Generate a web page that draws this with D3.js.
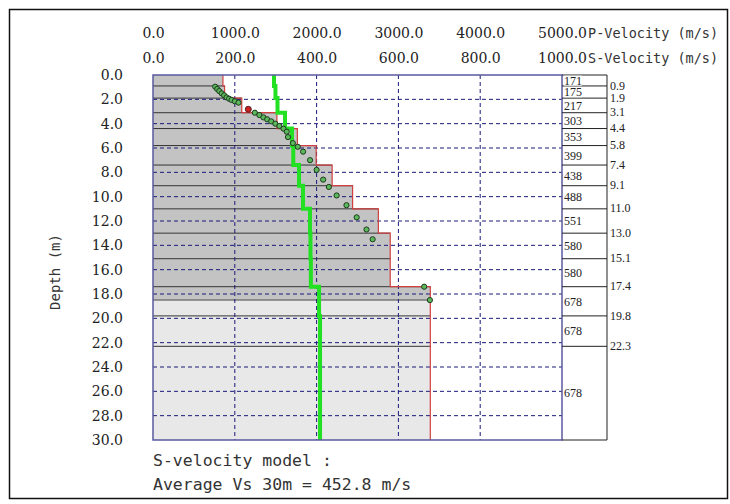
<!DOCTYPE html>
<html>
<head>
<meta charset="utf-8">
<script src="https://cdn.jsdelivr.net/npm/d3@7"></script>
<style>
  body { margin: 0; background: #fff; }
  .num { font-family: "DejaVu Serif", serif; font-size: 14px; fill: #222; }
  .mono { font-family: "DejaVu Sans Mono", monospace; fill: #333; }
  .box { font-family: "Liberation Serif", serif; font-size: 12px; fill: #222; }
</style>
</head>
<body>
<script>
// layer model
var layerBottom = [0.9, 1.9, 3.1, 4.4, 5.8, 7.4, 9.1, 11.0, 13.0, 15.1, 17.4, 19.8, 22.3, 30.0];
var vsLayer = [171, 175, 217, 303, 353, 399, 438, 488, 551, 580, 580, 678, 678, 678];
var vpLayer = [1479, 1497, 1522, 1614, 1699, 1715, 1785, 1834, 1919, 1925, 1930, 2030, 2042, 2042];
var shadeDepth = 18.5;

// picked dispersion points (velocity m/s, depth m)
var dispVel = [152, 157, 162, 168, 174, 180, 186, 192, 200, 209, 249, 260, 270, 279, 289, 299, 309, 319, 327, 330, 342, 354, 367, 384, 400, 416, 430, 449, 473, 498, 522, 537, 663, 677];
var dispDepth = [0.96, 1.15, 1.32, 1.51, 1.67, 1.84, 1.95, 2.05, 2.16, 2.27, 3.1, 3.29, 3.48, 3.64, 3.81, 4.0, 4.19, 4.41, 4.66, 5.1, 5.6, 5.9, 6.3, 7.0, 7.8, 8.6, 9.2, 9.9, 10.7, 11.7, 12.7, 13.5, 17.4, 18.5];
var redVel = [233];
var redDepth = [2.82];

var pTicks = [0, 1000, 2000, 3000, 4000, 5000];
var sTicks = [0, 200, 400, 600, 800, 1000];
var depthTicks = d3.range(0, 31, 2);

var W = 730, H = 504;
var svg = d3.select("body").append("svg")
    .attr("width", W)
    .attr("height", H);

svg.append("rect")
    .attr("x", 9.5).attr("y", 9.5)
    .attr("width", 718).attr("height", 489)
    .attr("fill", "none").attr("stroke", "#111").attr("stroke-width", 1.5);

var x0 = 153, x1 = 562, y0 = 75, y1 = 440;
var xs = d3.scaleLinear().domain([0, 1000]).range([x0, x1]);
var xp = d3.scaleLinear().domain([0, 5000]).range([x0, x1]);
var y = d3.scaleLinear().domain([0, 30]).range([y0, y1]);

var layers = layerBottom.map(function(b, i){
    return { top: i == 0 ? 0 : layerBottom[i-1], bottom: b, vs: vsLayer[i], vp: vpLayer[i] };
});

// gray fill, split at shading depth
var g = svg.append("g");
layers.forEach(function(l){
    var parts = [];
    if (l.bottom <= shadeDepth) parts.push([l.top, l.bottom, "#c3c3c3"]);
    else if (l.top >= shadeDepth) parts.push([l.top, l.bottom, "#e8e8e8"]);
    else { parts.push([l.top, shadeDepth, "#c3c3c3"]); parts.push([shadeDepth, l.bottom, "#e8e8e8"]); }
    parts.forEach(function(p){
        g.append("rect")
            .attr("x", x0).attr("y", y(p[0]))
            .attr("width", xs(l.vs) - x0).attr("height", y(p[1]) - y(p[0]))
            .attr("fill", p[2]);
    });
});

// layer boundary lines
layers.slice(0, -1).forEach(function(l, i){
    g.append("line")
        .attr("x1", x0).attr("x2", xs(Math.max(l.vs, layers[i+1].vs)))
        .attr("y1", y(l.bottom)).attr("y2", y(l.bottom))
        .attr("stroke", "#333").attr("stroke-width", 1);
});
g.append("line")
    .attr("x1", x0).attr("x2", xs(vsLayer[layerBottom.findIndex(function(b){ return b > shadeDepth; })]))
    .attr("y1", y(shadeDepth)).attr("y2", y(shadeDepth))
    .attr("stroke", "#777").attr("stroke-width", 1.5);

// grid
var grid = svg.append("g").attr("stroke", "#1a1a7a").attr("stroke-width", 1).attr("stroke-dasharray", "4,3");
depthTicks.slice(1, -1).forEach(function(d){
    grid.append("line").attr("x1", x0).attr("x2", x1).attr("y1", y(d)).attr("y2", y(d));
});
sTicks.slice(1, -1).forEach(function(v){
    grid.append("line").attr("x1", xs(v)).attr("x2", xs(v)).attr("y1", y0).attr("y2", y1);
});

// Vs step line (red)
var stepPts = [];
layers.forEach(function(l){ stepPts.push([l.vs, l.top]); stepPts.push([l.vs, l.bottom]); });
var line = d3.line().x(function(d){ return xs(d[0]); }).y(function(d){ return y(d[1]); });
svg.append("path").attr("d", line(stepPts))
    .attr("fill", "none").attr("stroke", "#d04040").attr("stroke-width", 1.2);

// Vp step line (green)
var vpPts = [];
layers.forEach(function(l){ vpPts.push([l.vp, l.top]); vpPts.push([l.vp, l.bottom]); });
var lineP = d3.line().x(function(d){ return xp(d[0]); }).y(function(d){ return y(d[1]); });
svg.append("path").attr("d", lineP(vpPts))
    .attr("fill", "none").attr("stroke", "#22e022").attr("stroke-width", 4);

// dispersion points
svg.append("g").selectAll("circle")
    .data(dispVel.map(function(v, i){ return [v, dispDepth[i]]; }))
    .enter().append("circle")
    .attr("cx", function(d){ return xs(d[0]); })
    .attr("cy", function(d){ return y(d[1]); })
    .attr("r", 2.6)
    .attr("fill", "#5cb85c").attr("stroke", "#1e3a1e").attr("stroke-width", 1);
svg.append("g").selectAll("circle")
    .data(redVel.map(function(v, i){ return [v, redDepth[i]]; }))
    .enter().append("circle")
    .attr("cx", function(d){ return xs(d[0]); })
    .attr("cy", function(d){ return y(d[1]); })
    .attr("r", 3)
    .attr("fill", "#d02020").attr("stroke", "#502020").attr("stroke-width", 1);

// plot border
svg.append("rect")
    .attr("x", x0).attr("y", y0).attr("width", x1 - x0).attr("height", y1 - y0)
    .attr("fill", "none").attr("stroke", "#5a5aa0").attr("stroke-width", 1.5);

// right label box
var bx1 = 607;
var box = svg.append("g");
box.append("path")
    .attr("d", "M" + x1 + "," + y0 + "H" + bx1 + "V" + y1 + "H" + x1)
    .attr("fill", "none").attr("stroke", "#222").attr("stroke-width", 1);
layers.slice(0, -1).forEach(function(l){
    box.append("line").attr("x1", x1).attr("x2", bx1)
        .attr("y1", y(l.bottom)).attr("y2", y(l.bottom))
        .attr("stroke", "#222").attr("stroke-width", 1);
});
layers.forEach(function(l){
    var t = box.append("text").attr("class", "box")
        .attr("x", x1 + 2).attr("y", (y(l.top) + y(l.bottom)) / 2)
        .attr("dy", "0.35em").text(l.vs);
    var bb = t.node().getBBox();
    box.insert("rect", function(){ return t.node(); })
        .attr("x", bb.x).attr("y", bb.y + 2).attr("width", bb.width).attr("height", bb.height - 4)
        .attr("fill", "#fff");
});
layers.slice(0, -1).forEach(function(l){
    svg.append("text").attr("class", "box")
        .attr("x", bx1 + 3).attr("y", y(l.bottom))
        .attr("dy", "0.3em").text(l.bottom.toFixed(1));
});

// axes
var fmt = d3.format(".1f");
var axP = svg.append("g").attr("transform", "translate(0,38)")
    .call(d3.axisTop(xp).tickValues(pTicks).tickFormat(fmt).tickSize(0).tickPadding(0));
var axS = svg.append("g").attr("transform", "translate(0,63)")
    .call(d3.axisTop(xs).tickValues(sTicks).tickFormat(fmt).tickSize(0).tickPadding(0));
var axY = svg.append("g").attr("transform", "translate(" + x0 + ",0)")
    .call(d3.axisLeft(y).tickValues(depthTicks).tickFormat(fmt).tickSize(0).tickPadding(30));
[axP, axS, axY].forEach(function(a){
    a.select(".domain").remove();
    a.selectAll("text").attr("class", "num").attr("font-family", null).attr("font-size", null).attr("fill", null);
});

svg.append("text").attr("class", "mono").attr("font-size", "13.5px")
    .attr("x", 588).attr("y", 38).text("P-Velocity (m/s)");
svg.append("text").attr("class", "mono").attr("font-size", "13.5px")
    .attr("x", 588).attr("y", 63).text("S-Velocity (m/s)");

svg.append("text").attr("class", "mono").attr("font-size", "14px")
    .attr("text-anchor", "middle")
    .attr("transform", "translate(60,272) rotate(-90)")
    .text("Depth (m)");

svg.append("text").attr("class", "mono").attr("font-size", "16.5px")
    .attr("x", x0).attr("y", 466).text("S-velocity model :");
svg.append("text").attr("class", "mono").attr("font-size", "16.5px")
    .attr("x", x0).attr("y", 490).text("Average Vs 30m = 452.8 m/s");
</script>
</body>
</html>
